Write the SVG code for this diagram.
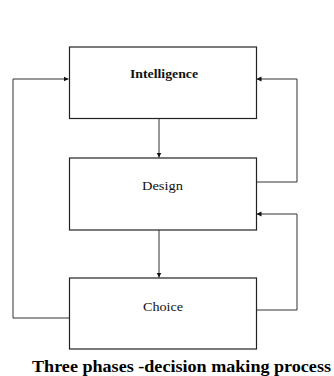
<svg xmlns="http://www.w3.org/2000/svg" width="334" height="376" viewBox="0 0 334 376">
<style>
.box{fill:#fff;stroke:#222;stroke-width:1.2}
.lbl{font-family:"Liberation Serif",serif;font-size:13px;fill:#111;text-anchor:middle}
.c{fill:none;stroke:#333;stroke-width:1}
</style>
<defs>
<marker id="ah" markerWidth="6" markerHeight="6" refX="5" refY="3" orient="auto" markerUnits="userSpaceOnUse">
<path d="M0,0.5 L5,3 L0,5.5 Z" fill="#111"/>
</marker>
</defs>
<rect width="334" height="376" fill="#fff"/>
<g id="connectors">
<path class="c" d="M159,118.5 V157.5" marker-end="url(#ah)"/>
<path class="c" d="M159,230 V277.5" marker-end="url(#ah)"/>
<path class="c" d="M69,318 H13 V79 H68.5" marker-end="url(#ah)"/>
<path class="c" d="M256,182 H297 V79 H256.5" marker-end="url(#ah)"/>
<path class="c" d="M256,310 H297 V214 H256.5" marker-end="url(#ah)"/>
</g>
<g id="intelligence">
<rect class="box" x="69.5" y="47" width="187" height="71.5"/>
<text class="lbl" x="164" y="77.5" font-weight="bold" textLength="68" lengthAdjust="spacingAndGlyphs">Intelligence</text>
</g>
<g id="design">
<rect class="box" x="69.5" y="158" width="187" height="72"/>
<text class="lbl" x="162.5" y="190" textLength="41" lengthAdjust="spacingAndGlyphs">Design</text>
</g>
<g id="choice">
<rect class="box" x="69.5" y="278" width="187" height="71"/>
<text class="lbl" x="163" y="310.5" textLength="40" lengthAdjust="spacingAndGlyphs">Choice</text>
</g>
<text x="181.5" y="371.5" font-family="Liberation Serif,serif" font-size="16" font-weight="bold" text-anchor="middle" fill="#000" textLength="299" lengthAdjust="spacingAndGlyphs">Three phases -decision making process</text>
</svg>
